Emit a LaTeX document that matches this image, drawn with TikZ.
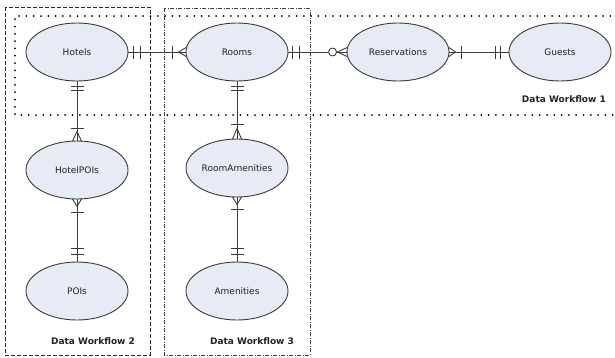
\documentclass[tikz,border=0pt]{standalone}
\usepackage{fontspec}
\setmainfont{DejaVu Sans}
\usetikzlibrary{shapes.geometric}
\definecolor{efill}{HTML}{E6EBF6}
\definecolor{eline}{HTML}{3A3A3A}
\definecolor{txt}{HTML}{222222}
\tikzset{
  ent/.style={ellipse, draw=eline, fill=efill, line width=0.9pt, minimum width=102pt, minimum height=58pt, inner sep=0pt, font=\fontsize{9}{10}\selectfont, text=txt},
  conn/.style={draw=eline, line width=0.9pt},
  wflabel/.style={font=\bfseries\fontsize{9}{10}\selectfont, text=txt, inner sep=0pt},
  box2/.style={draw=black!85, line width=0.8pt, dash pattern=on 4pt off 2pt},
  box3/.style={draw=black!75, line width=0.7pt, dash pattern=on 4pt off 1.5pt on 1pt off 1.5pt},
  box1/.style={draw=black, line width=2pt, dash pattern=on 0pt off 7.3pt, line cap=round},
}
\begin{document}
\begin{tikzpicture}[x=1pt,y=-1pt]
\useasboundingbox (0,0) rectangle (615,357);
% workflow boxes
\draw[box2] (5,7) rectangle (150,355);
\draw[box3] (164,8) rectangle (310,355);
\draw[box1] (625,16) -- (15,16) -- (15,115) -- (625,115);
\clip (0,0) rectangle (615,357);
% entities
\node[ent] (hotels) at (77,52) {Hotels};
\node[ent] (rooms) at (237,52) {Rooms};
\node[ent] (res) at (398,52) {Reservations};
\node[ent] (guests) at (560,52) {Guests};
\node[ent] (hpoi) at (77,170) {HotelPOIs};
\node[ent] (pois) at (77,291) {POIs};
\node[ent] (ramen) at (237,168) {RoomAmenities};
\node[ent] (amen) at (237,291) {Amenities};
% labels
\node[wflabel, anchor=east] (wf1) at (606,99) {Data Workflow 1};
\node[wflabel] (wf2) at (93,341) {Data Workflow 2};
\node[wflabel] (wf3) at (252,341) {Data Workflow 3};
% Hotels -- Rooms
\draw[conn] (hotels.east) -- (rooms.west);
\draw[conn] ([shift={(5,0)}]hotels.east) ++(0,-6.5) -- ++(0,13);
\draw[conn] ([shift={(12,0)}]hotels.east) ++(0,-6.5) -- ++(0,13);
\draw[conn] ([shift={(-13,0)}]rooms.west) ++(0,-6.5) -- ++(0,13);
\draw[conn] ([shift={(0.5,-4.5)}]rooms.west) -- ([shift={(-7,0)}]rooms.west) -- ([shift={(0.5,4.5)}]rooms.west);
% Rooms -- Reservations
\draw[conn] (rooms.east) -- ([shift={(-18,0)}]res.west);
\draw[conn] ([shift={(-10,0)}]res.west) -- (res.west);
\draw[conn] ([shift={(4,0)}]rooms.east) ++(0,-6.5) -- ++(0,13);
\draw[conn] ([shift={(11,0)}]rooms.east) ++(0,-6.5) -- ++(0,13);
\draw[conn, fill=white] ([shift={(-14,0)}]res.west) circle (4pt);
\draw[conn] ([shift={(0.5,-4.5)}]res.west) -- ([shift={(-9,0)}]res.west) -- ([shift={(0.5,4.5)}]res.west);
% Reservations -- Guests
\draw[conn] (res.east) -- (guests.west);
\draw[conn] ([shift={(-0.5,-4.5)}]res.east) -- ([shift={(6,0)}]res.east) -- ([shift={(-0.5,4.5)}]res.east);
\draw[conn] ([shift={(12,0)}]res.east) ++(0,-6.5) -- ++(0,13);
\draw[conn] ([shift={(-13,0)}]guests.west) ++(0,-6.5) -- ++(0,13);
\draw[conn] ([shift={(-8,0)}]guests.west) ++(0,-6.5) -- ++(0,13);
% Hotels -- HotelPOIs
\draw[conn] (hotels.south) -- (hpoi.north);
\draw[conn] ([shift={(0,5)}]hotels.south) ++(-6.5,0) -- ++(13,0);
\draw[conn] ([shift={(0,9)}]hotels.south) ++(-6.5,0) -- ++(13,0);
\draw[conn] ([shift={(0,-12)}]hpoi.north) ++(-6.5,0) -- ++(13,0);
\draw[conn] ([shift={(-4.5,0.5)}]hpoi.north) -- ([shift={(0,-9)}]hpoi.north) -- ([shift={(4.5,0.5)}]hpoi.north);
% HotelPOIs -- POIs
\draw[conn] (hpoi.south) -- (pois.north);
\draw[conn] ([shift={(-4.5,-0.5)}]hpoi.south) -- ([shift={(0,7)}]hpoi.south) -- ([shift={(4.5,-0.5)}]hpoi.south);
\draw[conn] ([shift={(0,13)}]hpoi.south) ++(-6.5,0) -- ++(13,0);
\draw[conn] ([shift={(0,-13)}]pois.north) ++(-6.5,0) -- ++(13,0);
\draw[conn] ([shift={(0,-7)}]pois.north) ++(-6.5,0) -- ++(13,0);
% Rooms -- RoomAmenities
\draw[conn] (rooms.south) -- (ramen.north);
\draw[conn] ([shift={(0,5)}]rooms.south) ++(-6.5,0) -- ++(13,0);
\draw[conn] ([shift={(0,9)}]rooms.south) ++(-6.5,0) -- ++(13,0);
\draw[conn] ([shift={(0,-14)}]ramen.north) ++(-6.5,0) -- ++(13,0);
\draw[conn] ([shift={(-4.5,0.5)}]ramen.north) -- ([shift={(0,-10)}]ramen.north) -- ([shift={(4.5,0.5)}]ramen.north);
% RoomAmenities -- Amenities
\draw[conn] (ramen.south) -- (amen.north);
\draw[conn] ([shift={(-4.5,-0.5)}]ramen.south) -- ([shift={(0,7)}]ramen.south) -- ([shift={(4.5,-0.5)}]ramen.south);
\draw[conn] ([shift={(0,12)}]ramen.south) ++(-6.5,0) -- ++(13,0);
\draw[conn] ([shift={(0,-13)}]amen.north) ++(-6.5,0) -- ++(13,0);
\draw[conn] ([shift={(0,-7)}]amen.north) ++(-6.5,0) -- ++(13,0);
\end{tikzpicture}
\end{document}
